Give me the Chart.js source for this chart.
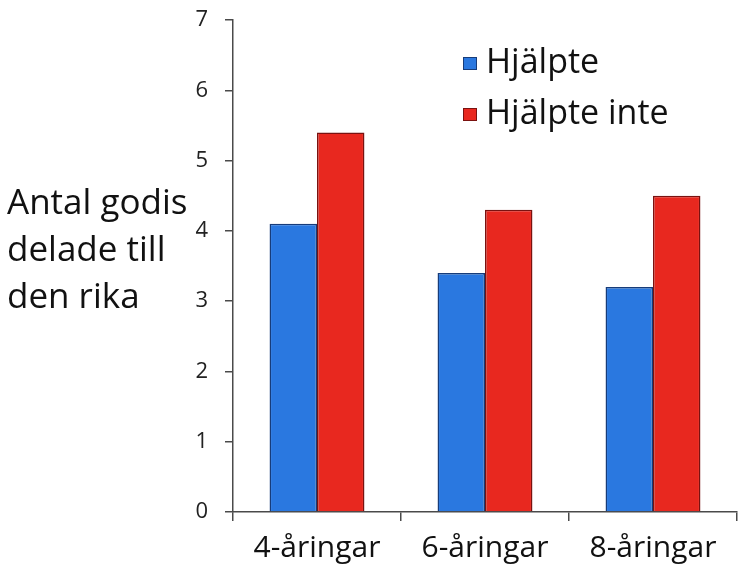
<!DOCTYPE html>
<html>
<head>
<meta charset="utf-8">
<script src="https://cdn.jsdelivr.net/npm/chart.js@4"></script>
<style>
html,body{margin:0;padding:0;background:#fff;}
#wrap{width:745px;height:572px;position:relative;}
</style>
</head>
<body>
<div id="wrap"><canvas id="c" width="745" height="572"></canvas></div>
<script>
const categories = ['4-åringar', '6-åringar', '8-åringar'];
const seriesNames = ['Hjälpte', 'Hjälpte inte'];
const helped = [4.1, 3.4, 3.2];
const notHelped = [5.4, 4.3, 4.5];
const yTicks = [0, 1, 2, 3, 4, 5, 6, 7];
const yTitleLines = ['Antal godis', 'delade till', 'den rika'];

const FONT = '"Open Sans", Lato, sans-serif';
const AXIS = '#4a4a4a';

const sideText = {
  id: 'sideText',
  afterDraw(chart) {
    const ctx = chart.ctx;
    ctx.save();
    // y title, horizontal multi-line
    ctx.font = '35px ' + FONT;
    ctx.fillStyle = '#111';
    ctx.textAlign = 'left';
    ctx.textBaseline = 'middle';
    yTitleLines.forEach((t, i) => ctx.fillText(t, 7, 204 + i * 47));
    // legend
    const ds = chart.data.datasets;
    ds.forEach((d, i) => {
      const y = 63 + i * 51;
      ctx.fillStyle = d.backgroundColor;
      ctx.fillRect(463, y - 6, 14, 13);
      ctx.strokeStyle = d.borderColor;
      ctx.lineWidth = 1;
      ctx.strokeRect(463.5, y - 5.5, 13, 12);
      ctx.fillStyle = '#111';
      ctx.font = '34px ' + FONT;
      ctx.fillText(d.label, 486, y);
    });
    ctx.restore();
  }
};

new Chart(document.getElementById('c'), {
  type: 'bar',
  data: {
    labels: categories,
    datasets: [
      { label: seriesNames[0], data: helped, backgroundColor: '#2a78e0', borderColor: '#173c7a', borderWidth: 1.5 },
      { label: seriesNames[1], data: notHelped, backgroundColor: '#e8281f', borderColor: '#7a1210', borderWidth: 1.5 }
    ]
  },
  options: {
    responsive: false,
    animation: false,
    devicePixelRatio: 1,
    layout: { padding: { left: 0, right: 8, top: 20, bottom: 0 } },
    plugins: { legend: { display: false }, tooltip: { enabled: false } },
    datasets: { bar: { categoryPercentage: 0.565, barPercentage: 1.0 } },
    scales: {
      x: {
        offset: true,
        grid: { offset: true, drawOnChartArea: false, drawTicks: true, tickLength: 9, color: AXIS, lineWidth: 1.5 },
        border: { color: AXIS, width: 1.5 },
        ticks: { color: '#111', font: { family: FONT, size: 30 }, padding: 9 },
        afterFit(s) { s.height = 60; s.paddingLeft = 0; s.paddingRight = 0; }
      },
      y: {
        min: 0, max: 7,
        afterBuildTicks(s) { s.ticks = yTicks.map(v => ({ value: v })); },
        grid: { drawOnChartArea: false, drawTicks: true, tickLength: 8, color: AXIS, lineWidth: 1.5 },
        border: { color: AXIS, width: 1.5 },
        ticks: { color: '#222', font: { family: FONT, size: 22 }, padding: 17 },
        afterFit(s) { s.width = 233; s.paddingTop = 0; s.paddingBottom = 0; }
      }
    }
  },
  plugins: [sideText]
});
</script>
</body>
</html>
